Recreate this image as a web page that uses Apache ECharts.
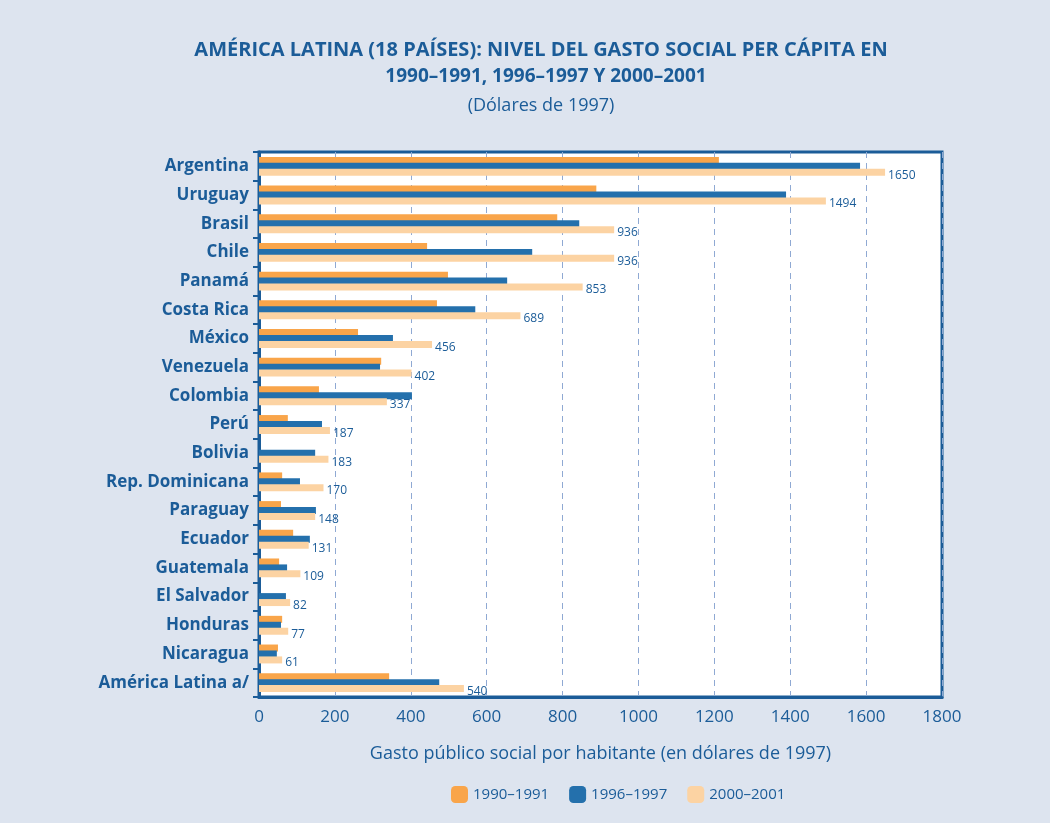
<!DOCTYPE html>
<html><head><meta charset="utf-8">
<script src="https://cdn.jsdelivr.net/npm/echarts@6/dist/echarts.min.js"></script>
<style>html,body{margin:0;padding:0;background:#dde4ef;}#c{width:1050px;height:823px;}</style>
</head><body><div id="c"></div>
<script>
const countries = ["Argentina","Uruguay","Brasil","Chile","Panamá","Costa Rica","México","Venezuela","Colombia","Perú","Bolivia","Rep. Dominicana","Paraguay","Ecuador","Guatemala","El Salvador","Honduras","Nicaragua","América Latina a/"];
const s1990 = [1212, 889, 786, 443, 498, 469, 261, 322, 158, 76, null, 61, 58, 90, 53, null, 61, 50, 343];
const s1996 = [1584, 1389, 844, 720, 654, 570, 353, 319, 403, 166, 148, 108, 150, 134, 74, 71, 58, 47, 475];
const s2000 = [1650, 1494, 936, 936, 853, 689, 456, 402, 337, 187, 183, 170, 148, 131, 109, 82, 77, 61, 540];
const seriesNames = ["1990–1991","1996–1997","2000–2001"];
const xTicks = [0,200,400,600,800,1000,1200,1400,1600,1800];

const F = "'Open Sans', sans-serif";
const TXT = "#1b5c98";
const chart = echarts.init(document.getElementById('c'));
chart.setOption({
  backgroundColor: "#dde4ef",
  textStyle: {fontFamily: F},
  title: [
    {text: "AMÉRICA LATINA (18 PAÍSES): NIVEL DEL GASTO SOCIAL PER CÁPITA EN", left: 536, top: 35, textAlign: "center",
     textStyle: {fontFamily: F, fontSize: 20, fontWeight: "bold", color: TXT}},
    {text: "1990–1991, 1996–1997 Y 2000–2001", left: 541, top: 62, textAlign: "center",
     textStyle: {fontFamily: F, fontSize: 19, fontWeight: "bold", color: TXT}},
    {text: "(Dólares de 1997)", left: 536, top: 92, textAlign: "center",
     textStyle: {fontFamily: F, fontSize: 18, fontWeight: "normal", color: TXT}}
  ],
  legend: {
    data: seriesNames, bottom: 15, left: 446, itemWidth: 17, itemHeight: 17, itemGap: 20,
    textStyle: {fontFamily: F, fontSize: 15, color: TXT}
  },
  grid: {left: 259, right: 108, top: 152, bottom: 126, show: true, backgroundColor: "#ffffff", borderColor: "#1b5c98", borderWidth: 3},
  xAxis: {
    type: "value", min: xTicks[0], max: xTicks[xTicks.length-1], interval: 200,
    name: "Gasto público social por habitante (en dólares de 1997)", nameLocation: "middle", nameGap: 48,
    nameTextStyle: {fontFamily: F, fontSize: 18, color: TXT},
    axisLine: {show: true, lineStyle: {color: "#1b5c98", width: 3}},
    axisTick: {show: false},
    axisLabel: {fontFamily: F, fontSize: 17, color: TXT, margin: 12, formatter: v => String(v)},
    splitLine: {show: true, lineStyle: {color: "#8fa9d3", type: [6, 5], width: 1}}
  },
  yAxis: {
    type: "category", data: countries, inverse: true,
    axisLine: {show: true, lineStyle: {color: "#1b5c98", width: 3}},
    axisTick: {show: true, length: 6, lineStyle: {color: "#1b5c98", width: 2}},
    axisLabel: {fontFamily: F, fontSize: 17, fontWeight: "bold", color: TXT, margin: 10},
    splitLine: {show: false}
  },
  series: [
    {name: seriesNames[0], type: "bar", data: s1990, barWidth: 7, barGap: "-15%", itemStyle: {color: "#f9a54a"}},
    {name: seriesNames[1], type: "bar", data: s1996, barWidth: 7, barGap: "-15%", itemStyle: {color: "#2470ac"}},
    {name: seriesNames[2], type: "bar", data: s2000, barWidth: 7, barGap: "-15%", itemStyle: {color: "#fcd3a3"},
     label: {show: true, position: "right", distance: 3, offset: [0, 3], fontFamily: F, fontSize: 12, color: TXT}}
  ],
  animation: false
});
</script></body></html>
